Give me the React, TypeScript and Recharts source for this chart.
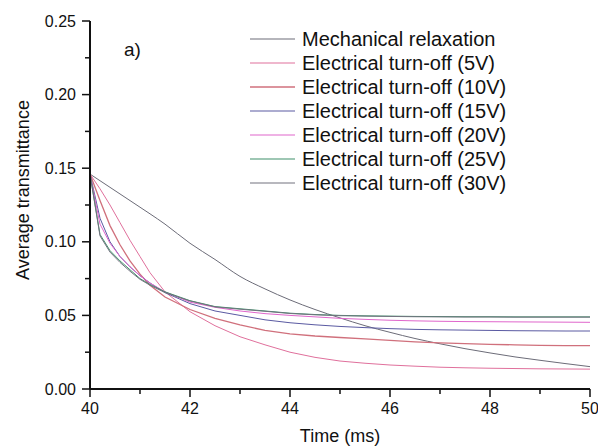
import React from "react";
import { LineChart, Line, XAxis, YAxis, Legend } from "recharts";

const FONT = "'Liberation Sans', Arial, sans-serif";

// time in ms
const times = [40, 40.2, 40.4, 40.6, 40.8, 41, 41.2, 41.5, 42, 42.5, 43, 43.5, 44, 44.5, 45, 45.5, 46, 46.5, 47, 47.5, 48, 48.5, 49, 49.5, 50];

const mechanical = [0.146, 0.1415, 0.137, 0.1325, 0.128, 0.1235, 0.119, 0.112, 0.099, 0.088, 0.0765, 0.068, 0.0605, 0.054, 0.0483, 0.043, 0.0385, 0.0343, 0.0307, 0.0274, 0.0245, 0.0218, 0.0195, 0.0173, 0.0152];
const turnOff5 = [0.146, 0.136, 0.125, 0.113, 0.101, 0.09, 0.079, 0.066, 0.0525, 0.043, 0.0355, 0.03, 0.025, 0.0215, 0.019, 0.0175, 0.0163, 0.0155, 0.0148, 0.0144, 0.0141, 0.0139, 0.0137, 0.0136, 0.0135];
const turnOff10 = [0.146, 0.128, 0.111, 0.098, 0.087, 0.078, 0.0705, 0.0625, 0.054, 0.048, 0.0435, 0.0398, 0.0375, 0.036, 0.035, 0.034, 0.033, 0.032, 0.0313, 0.0308, 0.0303, 0.03, 0.0297, 0.0295, 0.0294];
const turnOff15 = [0.146, 0.116, 0.1, 0.09, 0.083, 0.077, 0.072, 0.0655, 0.058, 0.053, 0.05, 0.047, 0.045, 0.0436, 0.0425, 0.0417, 0.041, 0.0405, 0.0402, 0.04, 0.0398, 0.0396, 0.0395, 0.0394, 0.0394];
const turnOff20 = [0.146, 0.112, 0.099, 0.09, 0.083, 0.077, 0.072, 0.066, 0.059, 0.0555, 0.053, 0.0512, 0.05, 0.049, 0.048, 0.0473, 0.0467, 0.0463, 0.046, 0.0458, 0.0457, 0.0456, 0.0455, 0.0454, 0.0453];
const turnOff25 = [0.146, 0.105, 0.094, 0.087, 0.081, 0.075, 0.071, 0.066, 0.06, 0.056, 0.0545, 0.053, 0.0515, 0.0506, 0.05, 0.0497, 0.0495, 0.0493, 0.0492, 0.0491, 0.0491, 0.049, 0.049, 0.049, 0.049];
const turnOff30 = [0.146, 0.104, 0.093, 0.086, 0.08, 0.0745, 0.0705, 0.0655, 0.0598, 0.0558, 0.0542, 0.0528, 0.0513, 0.0504, 0.0498, 0.0495, 0.0493, 0.0491, 0.049, 0.0489, 0.0489, 0.0488, 0.0488, 0.0488, 0.0488];

const seriesNames = [
  "Mechanical relaxation",
  "Electrical turn-off (5V)",
  "Electrical turn-off (10V)",
  "Electrical turn-off (15V)",
  "Electrical turn-off (20V)",
  "Electrical turn-off (25V)",
  "Electrical turn-off (30V)",
];
const seriesValues = [mechanical, turnOff5, turnOff10, turnOff15, turnOff20, turnOff25, turnOff30];
const seriesColors = ["#6c6c78", "#e0709c", "#d0707c", "#5a5aa2", "#e066cc", "#3f8f6a", "#72727f"];

const yTicks = [0, 0.025, 0.05, 0.075, 0.1, 0.125, 0.15, 0.175, 0.2, 0.225, 0.25];
const xTicks = [40, 41, 42, 43, 44, 45, 46, 47, 48, 49, 50];

const data = times.map((t, i) => {
  const row: any = { t };
  seriesValues.forEach((vals, k) => {
    row["s" + k] = vals[i];
  });
  return row;
});

const YTick = (props: any) => {
  const { x, y, payload } = props;
  const v = payload.value;
  const major = Math.abs(v / 0.05 - Math.round(v / 0.05)) < 1e-6;
  return (
    <g>
      <line x1={x} x2={x - (major ? 8 : 5)} y1={y} y2={y} stroke="#111" strokeWidth={1.5} />
      {major && (
        <text x={x - 14} y={y + 5.5} textAnchor="end" fontSize={16} fill="#111" fontFamily={FONT}>
          {v.toFixed(2)}
        </text>
      )}
    </g>
  );
};

const XTick = (props: any) => {
  const { x, y, payload } = props;
  const v = payload.value;
  const major = v % 2 === 0;
  return (
    <g>
      <line x1={x} x2={x} y1={y} y2={y + (major ? 8 : 5)} stroke="#111" strokeWidth={1.5} />
      {major && (
        <text x={x} y={y + 25} textAnchor="middle" fontSize={16} fill="#111" fontFamily={FONT}>
          {v}
        </text>
      )}
    </g>
  );
};

// legend keeps the original series order
const LegendBox = () => (
  <div style={{ fontFamily: FONT, fontSize: 20, color: "#111" }}>
    {seriesNames.map((name, k) => (
      <div key={name} style={{ display: "flex", alignItems: "center", height: 24 }}>
        <svg width={45} height={4} style={{ marginRight: 7 }}>
          <line x1={0} x2={45} y1={2} y2={2} stroke={seriesColors[k]} strokeWidth={k === 2 ? 1.6 : 1.2} />
        </svg>
        <span style={{ whiteSpace: "nowrap" }}>{name}</span>
      </div>
    ))}
  </div>
);

export default function App() {
  return (
    <div style={{ position: "absolute", left: 0, top: 0, width: 598, height: 446, background: "#fff" }}>
      <LineChart width={598} height={446} data={data} margin={{ top: 21, right: 8, bottom: 0, left: 0 }}>
        <XAxis
          dataKey="t"
          type="number"
          domain={[40, 50]}
          ticks={xTicks}
          interval={0}
          height={57}
          tickSize={0}
          tickMargin={0}
          tickLine={false}
          tick={<XTick />}
          axisLine={{ stroke: "#111", strokeWidth: 2 }}
          label={{
            content: (p: any) => (
              <text
                x={p.viewBox.x + p.viewBox.width / 2}
                y={p.viewBox.y + 53}
                textAnchor="middle"
                fontSize={18}
                fill="#111"
                fontFamily={FONT}
              >
                Time (ms)
              </text>
            ),
          }}
        />
        <YAxis
          type="number"
          domain={[0, 0.25]}
          ticks={yTicks}
          interval={0}
          width={90}
          tickSize={0}
          tickMargin={0}
          tickLine={false}
          tick={<YTick />}
          axisLine={{ stroke: "#111", strokeWidth: 2 }}
          label={{
            content: (p: any) => {
              const cy = p.viewBox.y + p.viewBox.height / 2 - 15;
              return (
                <text
                  x={29}
                  y={cy}
                  transform={`rotate(-90 29 ${cy})`}
                  textAnchor="middle"
                  fontSize={18}
                  fill="#111"
                  fontFamily={FONT}
                >
                  Average transmittance
                </text>
              );
            },
          }}
        />
        <Legend
          layout="vertical"
          align="center"
          verticalAlign="middle"
          content={<LegendBox />}
          wrapperStyle={{ left: 250, top: 27, width: 340 }}
        />
        {seriesNames.map((name, k) => (
          <Line
            key={name}
            type={k === 0 ? "monotone" : "linear"}
            dataKey={"s" + k}
            name={name}
            stroke={seriesColors[k]}
            strokeWidth={k === 2 ? 1.3 : 1}
            dot={false}
            activeDot={false}
            isAnimationActive={false}
          />
        ))}
      </LineChart>
      <svg width={598} height={446} style={{ position: "absolute", left: 0, top: 0, pointerEvents: "none" }}>
        <text x={124} y={56} fontSize={19} fill="#111" fontFamily={FONT}>
          a)
        </text>
      </svg>
    </div>
  );
}
